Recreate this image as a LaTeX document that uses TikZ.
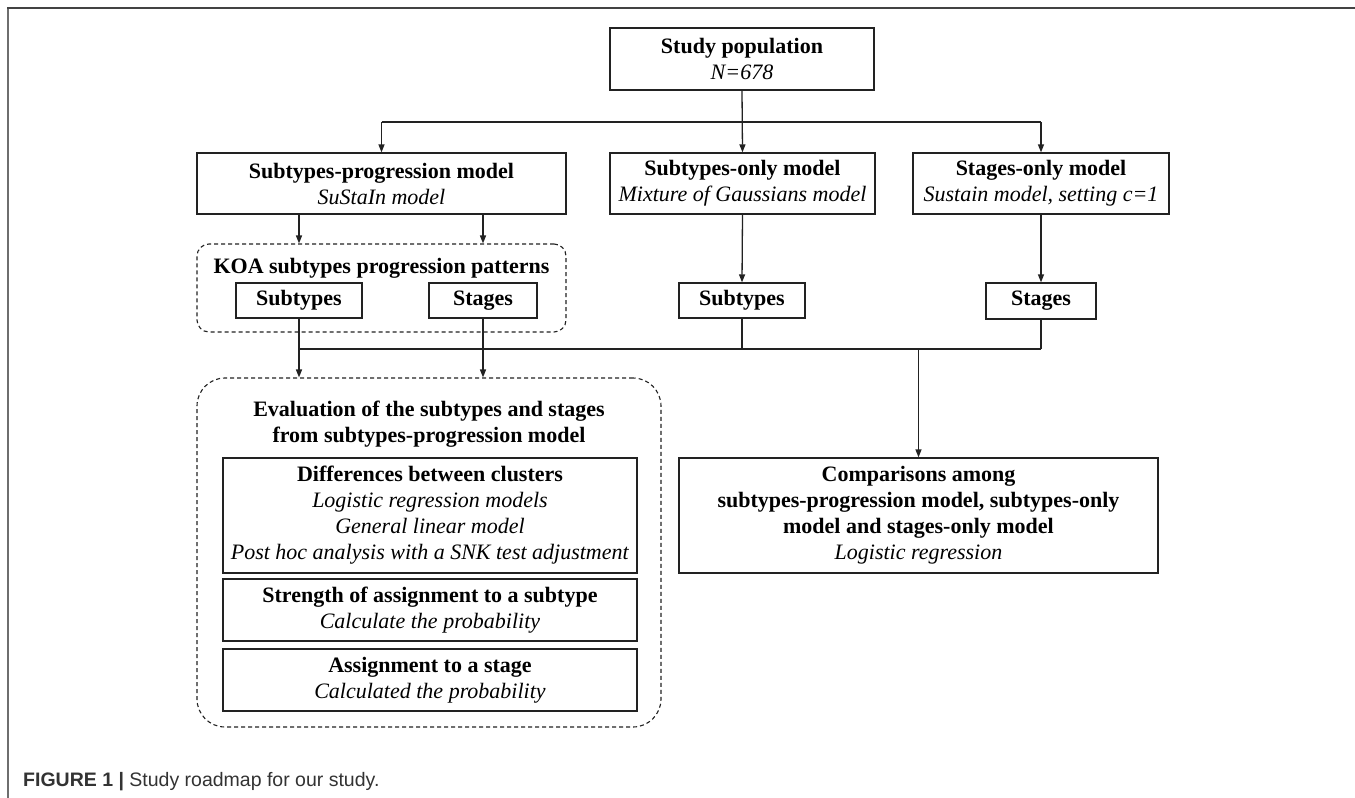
\documentclass[tikz,border=0pt]{standalone}
\usepackage{fontspec}
\setmainfont{Liberation Serif}
\newfontfamily\capfont{Liberation Sans}
\usetikzlibrary{arrows.meta}
\definecolor{linec}{HTML}{222222}
\definecolor{framec}{HTML}{6E6E6E}
\definecolor{capc}{HTML}{333333}
\newcommand\fs{\fontsize{22}{26}\selectfont}
\begin{document}
\begin{tikzpicture}[x=1pt,y=-1pt,
  box/.style={draw=linec, line width=1.3pt, inner sep=0pt, align=center, font=\fs, fill=white},
  dbox/.style={draw=linec, line width=1.1pt, dash pattern=on 4pt off 3pt, inner sep=0pt},
  txt/.style={inner sep=0pt, align=center, font=\fs},
  conn/.style={draw=linec, line width=1.3pt},
  arr/.style={conn, -{Triangle[length=8pt,width=6pt]}}]
\useasboundingbox (0,0) rectangle (1355,798);
\fill[white] (0,0) rectangle (1355,798);
% frame
\draw[framec, line width=2pt] (8,798) -- (8,8);
\draw[linec!85, line width=2pt] (7,8) -- (1355,8);
% dashed groups
\node[dbox, minimum width=369, minimum height=88, rounded corners=12] (koa) at (381.5,288) {};
\node[dbox, minimum width=464, minimum height=349, rounded corners=28] (eval) at (429,552.5) {};
% boxes
\node[box, minimum width=264, minimum height=62] (pop) at (742,59) {\textbf{Study population}\\\textit{N=678}};
\node[box, minimum width=369, minimum height=61] (spm) at (381.5,183.5) {\textbf{Subtypes-progression model}\\\textit{SuStaIn model}};
\node[box, minimum width=265, minimum height=61] (sto) at (742.5,183.5) {\textbf{Subtypes-only model}\\\textit{Mixture of Gaussians model}};
\node[box, minimum width=256, minimum height=61] (sgo) at (1041,183.5) {\textbf{Stages-only model}\\\textit{Sustain model, setting c=1}};
\node[txt] (koat) at (381.5,268) {\textbf{KOA subtypes progression patterns}};
\node[box, minimum width=126, minimum height=35] (sub1) at (299,300.5) {\textbf{Subtypes}};
\node[box, minimum width=108, minimum height=35] (stg1) at (483,300.5) {\textbf{Stages}};
\node[box, minimum width=126, minimum height=35] (sub2) at (742,300.5) {\textbf{Subtypes}};
\node[box, minimum width=110, minimum height=36] (stg2) at (1041,301) {\textbf{Stages}};
\node[txt] (evalt) at (429,424) {\textbf{Evaluation of the subtypes and stages}\\\textbf{from subtypes-progression model}};
\node[box, minimum width=414, minimum height=115] (diff) at (430,515.5) {\textbf{Differences between clusters}\\\textit{Logistic regression models}\\\textit{General linear model}\\\textit{Post hoc analysis with a SNK test adjustment}};
\node[box, minimum width=414, minimum height=62] (str) at (430,610) {\textbf{Strength of assignment to a subtype}\\\textit{Calculate the probability}};
\node[box, minimum width=414, minimum height=62] (asg) at (430,680) {\textbf{Assignment to a stage}\\\textit{Calculated the probability}};
\node[box, minimum width=479, minimum height=115] (comp) at (918.5,515.5) {\textbf{Comparisons among}\\\textbf{subtypes-progression model, subtypes-only}\\\textbf{model and stages-only model}\\\textit{Logistic regression}};
% connectors
\coordinate (hl) at (382,122);
\coordinate (bl) at (299,349);
\draw[arr] (pop.south) -- (sto.north);
\draw[conn] (spm.north |- hl) -- (sgo.north |- hl);
\draw[arr] (spm.north |- hl) -- (spm.north);
\draw[arr] (sgo.north |- hl) -- (sgo.north);
\draw[arr] (sub1.north |- spm.south) -- (sub1.north |- koa.north);
\draw[arr] (stg1.north |- spm.south) -- (stg1.north |- koa.north);
\draw[arr] (sto.south) -- (sub2.north);
\draw[arr] (sgo.south) -- (stg2.north);
\draw[arr] (sub1.south) -- (sub1.south |- eval.north);
\draw[arr] (stg1.south) -- (stg1.south |- eval.north);
\draw[conn] (sub1.south |- bl) -- (stg2.south |- bl);
\draw[conn] (sub2.south) -- (sub2.south |- bl);
\draw[conn] (stg2.south) -- (stg2.south |- bl);
\draw[arr] (comp.north |- bl) -- (comp.north);
% caption
\node[anchor=west, inner sep=0pt, text=capc, font=\capfont\fontsize{19.5}{22}\selectfont] (cap) at (23,782) {\textbf{FIGURE 1 |} Study roadmap for our study.};
\end{tikzpicture}
\end{document}
